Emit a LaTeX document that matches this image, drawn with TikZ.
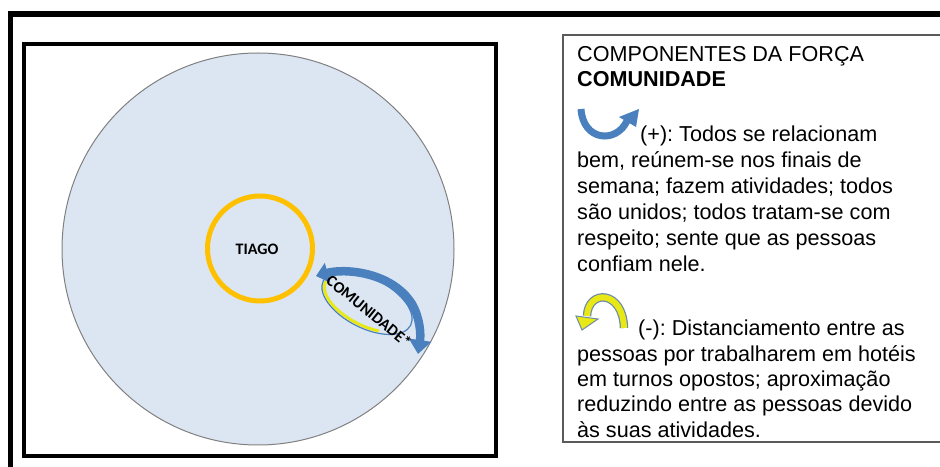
\documentclass[tikz,border=0pt]{standalone}
\usepackage{fontspec}
\setmainfont{Liberation Sans}
\newfontfamily\calibfont{Carlito}
\usetikzlibrary{arrows.meta}

\definecolor{ringorange}{RGB}{255,192,0}
\definecolor{fieldblue}{RGB}{220,230,242}
\definecolor{arrowblue}{RGB}{74,128,190}
\definecolor{arrowyellow}{RGB}{232,232,20}
\definecolor{iconedge}{RGB}{110,140,170}
\definecolor{boxgray}{RGB}{90,90,90}

\tikzset{
  boxtext/.style={anchor=base west, inner sep=0pt, font=\fontsize{21.6}{25}\selectfont\frenchspacing},
  labeltext/.style={inner sep=0pt, font=\calibfont\bfseries\fontsize{16}{18}\selectfont},
  headleft/.tip={Triangle[length=12pt, width=20pt]},
  headright/.tip={Triangle[length=14pt, width=22pt]}
}

\begin{document}
\begin{tikzpicture}[x=1pt, y=1pt]
  \useasboundingbox (0,0) rectangle (940,466);

  % outer frame
  \draw[line width=5.5pt] (10.5,-10) -- (10.5,452) -- (950,452);

  % left panel
  \draw[line width=4pt] (24,10) rectangle (496,422);
  \filldraw[fill=fieldblue, draw=gray, line width=1pt] (258,217) circle (196);

  \draw[ringorange, line width=5pt] (260,217.5) circle (52.5);
  \node[labeltext] (tiago) at (257,217) {TIAGO};

  \begin{scope}[shift={(367,163)}, rotate=-27]
    \draw[arrowblue, line width=1.2pt] (0,0) ellipse [x radius=49, y radius=25];
    \draw[arrowyellow, line width=3pt] (178:46.5 and 22.5) arc [start angle=178, end angle=300, x radius=46.5, y radius=22.5];
  \end{scope}
  \draw[arrowblue, line width=8.5pt, headleft-headright] (316,190) .. controls (345,198) and (392,194) .. (412,162) .. controls (420,148) and (421,132) .. (418,112);
  \node[labeltext, rotate=-39] (comunidade) at (369,155) {COMUNIDADE*};

  % right panel
  \draw[boxgray, line width=1.5pt] (563,24) rectangle (950,431);

  \node[boxtext] (title1) at (577,404) {COMPONENTES DA FORÇA};
  \node[boxtext] (title2) at (577,379) {\bfseries COMUNIDADE};

  % (+) icon
  \draw[arrowblue, line width=7pt] (581,357) .. controls (583,325) and (616,322) .. (627,345);
  \fill[arrowblue] (639,357) -- (619,349) -- (636,339) -- cycle;

  \node[boxtext] (pos0) at (640,324) {(+): Todos se relacionam};
  \foreach \row [count=\i] in {{bem, reúnem-se nos finais de},{semana; fazem atividades; todos},{são unidos; todos tratam-se com},{respeito; sente que as pessoas},{confiam nele.}}
    \node[boxtext] (pos\i) at (577,324-26*\i) {\row};

  % (-) icon
  \draw[iconedge, line width=8.5pt] (624,138) .. controls (623,176) and (588,177) .. (587,150);
  \draw[arrowyellow, line width=6pt] (624,138) .. controls (623,176) and (588,177) .. (587,150);
  \filldraw[fill=arrowyellow, draw=iconedge, line width=1pt] (582,136) -- (576,150) -- (598,147) -- cycle;

  \node[boxtext] (neg0) at (638,130) {(-): Distanciamento entre as};
  \foreach \row [count=\i] in {{pessoas por trabalharem em hotéis},{em turnos opostos; aproximação},{reduzindo entre as pessoas devido},{às suas atividades.}}
    \node[boxtext] (neg\i) at (577,130-25.3*\i) {\row};
\end{tikzpicture}
\end{document}
